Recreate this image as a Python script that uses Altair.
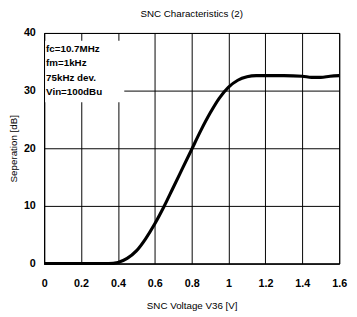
import altair as alt
import pandas as pd

voltage = [0, 0.35, 0.4, 0.45, 0.5, 0.55, 0.6, 0.65, 0.7, 0.75, 0.8, 0.85, 0.9, 0.95,
           1.0, 1.05, 1.1, 1.15, 1.2, 1.3, 1.4, 1.45, 1.5, 1.55, 1.6]
separation = [0, 0, 0.2, 0.9, 2.2, 4.3, 6.9, 9.9, 13.2, 16.5, 19.8, 23.1, 26.1, 28.7,
              30.6, 31.8, 32.4, 32.6, 32.6, 32.6, 32.5, 32.3, 32.3, 32.5, 32.6]
x_ticks = [0, 0.2, 0.4, 0.6, 0.8, 1.0, 1.2, 1.4, 1.6]
y_ticks = [0, 10, 20, 30, 40]
notes = ["fc=10.7MHz", "fm=1kHz", "75kHz dev.", "Vin=100dBu"]

df = pd.DataFrame({"v": voltage, "s": separation})
FONT = "Liberation Sans"

x_enc = alt.X("v:Q", scale=alt.Scale(domain=[0, 1.6], nice=False),
              axis=alt.Axis(values=x_ticks, title="SNC Voltage V36 [V]",
                            labelExpr="datum.value == 0 ? '0' : datum.value == 1 ? '1' : format(datum.value, '.1f')",
                            labelOverlap=False, labelFlush=False,
                            grid=True, gridColor="black", gridOpacity=1, gridWidth=1,
                            domainColor="black", ticks=False, labelPadding=14,
                            labelFont=FONT, labelFontSize=11, labelFontWeight="bold", labelColor="black",
                            titleFont=FONT, titleFontSize=10, titleFontWeight="normal", titleColor="black",
                            titlePadding=13))
y_enc = alt.Y("s:Q", scale=alt.Scale(domain=[0, 40], nice=False),
              axis=alt.Axis(values=y_ticks, title="Seperation [dB]",
                            labelOverlap=False, labelFlush=False,
                            grid=True, gridColor="black", gridOpacity=1, gridWidth=1,
                            domainColor="black", ticks=False, labelPadding=9,
                            labelFont=FONT, labelFontSize=11, labelFontWeight="bold", labelColor="black",
                            titleFont=FONT, titleFontSize=10, titleFontWeight="normal", titleColor="black",
                            titlePadding=5))

base = alt.Chart(df)
grid = base.mark_line(opacity=0).encode(x=x_enc, y=y_enc)

box = alt.Chart(pd.DataFrame({"a": [0]})).mark_rect(fill="white").encode(
    x=alt.value(1), x2=alt.value(82), y=alt.value(8), y2=alt.value(71))

txt = alt.Chart(pd.DataFrame({"t": ["\n".join(notes)]})).mark_text(
    align="left", baseline="top", font=FONT, fontSize=10, fontWeight="bold",
    lineBreak="\n", lineHeight=15, color="black").encode(
    text="t:N", x=alt.value(2), y=alt.value(11))

line = base.mark_line(color="black", strokeWidth=3.2, interpolate="monotone").encode(
    x=x_enc, y=y_enc)

chart = alt.layer(grid, box, txt, line).properties(
    width=302, height=236,
    title=alt.TitleParams("SNC Characteristics (2)", font=FONT, fontSize=10,
                          fontWeight="normal", color="black", offset=8, anchor="middle"),
    autosize=alt.AutoSizeParams(type="none"),
    padding={"left": 37, "top": 22, "right": 10, "bottom": 45},
).configure_view(stroke="black", strokeWidth=1).configure_axis(labelOverlap=False)

chart.save("out.html", embed_options={"renderer": "svg", "actions": False})
